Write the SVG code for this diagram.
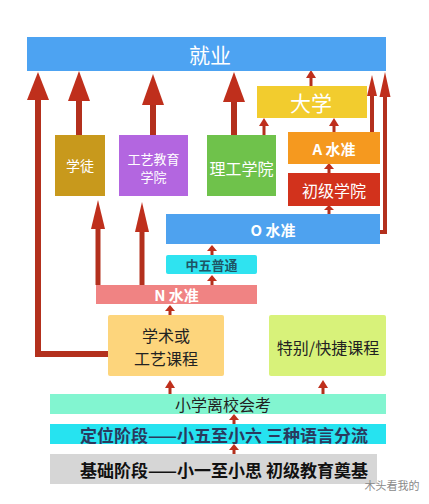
<svg xmlns="http://www.w3.org/2000/svg" width="429" height="504" viewBox="0 0 429 504">
<style>
text{font-family:"Noto Sans CJK SC","Noto Sans",sans-serif;text-anchor:middle;dominant-baseline:central}
.w{fill:#ffffff}
.d{fill:#222222}
.sh{fill:none;stroke:#b3301d;stroke-linejoin:miter}
.hd{fill:#bf2f1c}
</style>
<rect width="429" height="504" fill="#ffffff"/>
<g id="connectors">
<path class="sh" stroke-width="6" d="M108,354 H38 V99"/>
<polygon class="hd" points="27,100 38,72 49,100"/>
<path class="sh" stroke-width="6" d="M79,135 V100"/>
<polygon class="hd" points="68,101 79,71 90,101"/>
<path class="sh" stroke-width="6" d="M153,135 V104"/>
<polygon class="hd" points="142,105 153,74 164,105"/>
<path class="sh" stroke-width="6" d="M234,135 V101"/>
<polygon class="hd" points="223,102 234,72 245,102"/>
<path class="sh" stroke-width="3" d="M311,86 V77"/>
<polygon class="hd" points="306,78 311,70 316,78"/>
<path class="sh" stroke-width="4" d="M372,132 V95"/>
<polygon class="hd" points="367,96 372,75 377,96"/>
<path class="sh" stroke-width="4" d="M380,232 H385 V96"/>
<polygon class="hd" points="379.5,97 385,72 390.5,97"/>
<path class="sh" stroke-width="3" d="M264,135 V125"/>
<polygon class="hd" points="259,126 264,118 269,126"/>
<path class="sh" stroke-width="3" d="M334,132 V125"/>
<polygon class="hd" points="329,126 334,118 339,126"/>
<path class="sh" stroke-width="3" d="M329,173 V168"/>
<polygon class="hd" points="324,169 329,163 334,169"/>
<path class="sh" stroke-width="3" d="M329,214 V209"/>
<polygon class="hd" points="324,210 329,205 334,210"/>
<path class="sh" stroke-width="3" d="M212,255 V250"/>
<polygon class="hd" points="207,251 212,245 217,251"/>
<path class="sh" stroke-width="3" d="M212,285 V280"/>
<polygon class="hd" points="207,281 212,275 217,281"/>
<path class="sh" stroke-width="5" d="M98,285 V228"/>
<polygon class="hd" points="91,229 98,200 105,229"/>
<path class="sh" stroke-width="5" d="M142,285 V231"/>
<polygon class="hd" points="135,232 142,202 149,232"/>
<path class="sh" stroke-width="3" d="M170,315 V310"/>
<polygon class="hd" points="165,311 170,305 175,311"/>
<path class="sh" stroke-width="3" d="M170,394 V387"/>
<polygon class="hd" points="165,388 170,380 175,388"/>
<path class="sh" stroke-width="3" d="M323,394 V387"/>
<polygon class="hd" points="318,388 323,380 328,388"/>
<path class="sh" stroke-width="3" d="M234,424 V419"/>
<polygon class="hd" points="229,420 234,414 239,420"/>
<path class="sh" stroke-width="3" d="M234,454 V449"/>
<polygon class="hd" points="229,450 234,444 239,450"/>
</g>
<g id="jiuye"><rect x="27" y="37" width="359" height="34" fill="#4da3f2"/><text class="w" x="210" y="54" font-size="21">就业</text></g>
<g id="daxue"><rect x="257" y="86" width="110" height="32" fill="#f2cc2e"/><text class="w" x="311" y="102" font-size="21">大学</text></g>
<g id="xuetu"><rect x="55" y="135" width="50" height="61" fill="#c8991c"/><text class="w" x="80" y="165" font-size="14">学徒</text></g>
<g id="gongyi"><rect x="119" y="135" width="69" height="61" fill="#b366e0"/><text class="w" x="153.5" y="158" font-size="13">工艺教育</text><text class="w" x="153.5" y="176" font-size="13">学院</text></g>
<g id="ligong"><rect x="207" y="135" width="69" height="61" fill="#6fc24b"/><text class="w" x="241.5" y="168" font-size="16">理工学院</text></g>
<g id="alevel"><rect x="288" y="132" width="92" height="32" fill="#f5991f"/><text class="w" x="334" y="148" font-size="15" font-weight="bold">A 水准</text></g>
<g id="chuji"><rect x="288" y="173" width="92" height="33" fill="#d2321c"/><text class="w" x="334" y="190" font-size="16">初级学院</text></g>
<g id="olevel"><rect x="166" y="214" width="214" height="30" fill="#4ea2ef"/><text class="w" x="273" y="229" font-size="15" font-weight="bold">O 水准</text></g>
<g id="zhongwu"><rect x="166" y="255" width="91" height="19" rx="2" fill="#2fe3f0"/><text x="211.5" y="264.5" font-size="13" fill="#1e5566" font-weight="bold">中五普通</text></g>
<g id="nlevel"><rect x="96" y="285" width="161" height="19" fill="#f08383"/><text class="w" x="176.5" y="294.5" font-size="15" font-weight="bold">N 水准</text></g>
<g id="xueshu"><rect x="108" y="315" width="116" height="61" rx="2" fill="#fdd57c"/><text class="d" x="166" y="335" font-size="16">学术或</text><text class="d" x="166" y="358" font-size="16">工艺课程</text></g>
<g id="tebie"><rect x="269" y="315" width="117" height="61" rx="2" fill="#d8f27a"/><text class="d" x="328" y="347" font-size="16">特别/快捷课程</text></g>
<g id="lixiao"><rect x="50" y="394" width="336" height="20" fill="#82f5d0"/><text class="d" x="223" y="404" font-size="16">小学离校会考</text></g>
<g id="dingwei"><rect x="50" y="424" width="336" height="20" fill="#26e3f0"/><text x="224" y="434" font-size="17" fill="#2a3a5e" font-weight="bold">定位阶段——小五至小六 三种语言分流</text></g>
<g id="jichu"><rect x="50" y="454" width="327" height="30" fill="#d6d6d6"/><text x="224" y="469" font-size="17" fill="#111111" font-weight="bold">基础阶段——小一至小思 初级教育奠基</text></g>
<g id="watermark"><text x="392" y="485" font-size="11" fill="#8a8a8a">木头看我的</text></g>
</svg>
